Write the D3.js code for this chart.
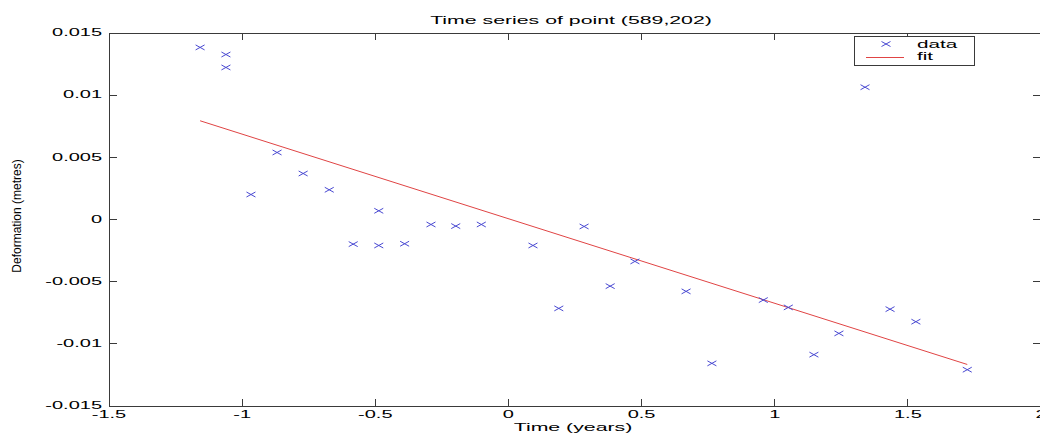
<!DOCTYPE html>
<html>
<head>
<meta charset="utf-8">
<script src="https://cdn.jsdelivr.net/npm/d3@7"></script>
<style>
  html, body { margin: 0; padding: 0; background: #fff; }
  svg { display: block; }
  text { font-family: "Liberation Sans", Arial, Helvetica, sans-serif; fill: #000; }
</style>
</head>
<body>
<svg id="chart" width="1040" height="436"></svg>
<script>
// ---- Data ----
const timeYears = [-1.156, -1.059, -1.059, -0.965, -0.867, -0.769, -0.671, -0.581, -0.485, -0.485,
                   -0.388, -0.289, -0.196, -0.100, 0.094, 0.191, 0.286, 0.384, 0.477, 0.669,
                   0.766, 0.959, 1.053, 1.149, 1.243, 1.341, 1.435, 1.532, 1.725];
const deformation = [0.0138, 0.01323, 0.01219, 0.00197, 0.00535, 0.00366, 0.00235, -0.00202, 0.00066, -0.00213,
                     -0.00199, -0.00044, -0.00057, -0.00044, -0.00213, -0.00719, -0.00060, -0.0054, -0.00341, -0.00582,
                     -0.01161, -0.00652, -0.00711, -0.01091, -0.0092, 0.0106, -0.00725, -0.00826, -0.01212];
const fitX = [-1.156, 1.725];
const fitY = [0.0079, -0.0117];
const xTicks = [-1.5, -1, -0.5, 0, 0.5, 1, 1.5, 2];
const yTicks = [-0.015, -0.01, -0.005, 0, 0.005, 0.01, 0.015];
const xDomain = [-1.5, 2];
const yDomain = [-0.015, 0.015];
const titleText = "Time series of point (589,202)";
const xLabelText = "Time (years)";
const yLabelText = "Deformation (metres)";
const legendLabels = ["data", "fit"];

// ---- Layout ----
const svg = d3.select("#chart");
const mLeft = 108.5, mRight = 1040.5, mTop = 32.5, mBottom = 405.5;
const x = d3.scaleLinear().domain(xDomain).range([mLeft, mRight]);
const y = d3.scaleLinear().domain(yDomain).range([mBottom, mTop]);

const axisColor = "#3a3a3a";
const markColor = "#4a4ad2";
const fitColor = "#e04444";
const tickStretch = 2.0;
const textStretch = 1.85;

svg.append("rect").attr("width", 1040).attr("height", 436).attr("fill", "#fff");

function styleAxis(g) {
  g.select(".domain").attr("stroke", axisColor).attr("shape-rendering", "crispEdges");
  g.selectAll(".tick line").attr("stroke", axisColor).attr("shape-rendering", "crispEdges");
  g.selectAll(".tick text")
    .attr("font-family", "Liberation Sans, Arial, sans-serif")
    .attr("font-size", 10)
    .attr("fill", "#000")
    .attr("transform", `scale(${tickStretch},1)`);
}

// bottom axis
svg.append("g").attr("transform", `translate(0,${mBottom})`)
  .call(d3.axisBottom(x).tickValues(xTicks).tickFormat(d => String(d))
    .tickSizeInner(-7).tickSizeOuter(0).tickPadding(5))
  .call(styleAxis);
// left axis
svg.append("g").attr("transform", `translate(${mLeft},0)`)
  .call(d3.axisLeft(y).tickValues(yTicks).tickFormat(d => String(d))
    .tickSizeInner(-8).tickSizeOuter(0).tickPadding(3.25))
  .call(styleAxis);
// top axis (box)
svg.append("g").attr("transform", `translate(0,${mTop})`)
  .call(d3.axisTop(x).tickValues(xTicks).tickFormat("")
    .tickSizeInner(-7).tickSizeOuter(0))
  .call(styleAxis);
// right axis (box)
svg.append("g").attr("transform", `translate(${mRight},0)`)
  .call(d3.axisRight(y).tickValues(yTicks).tickFormat("")
    .tickSizeInner(-8).tickSizeOuter(0))
  .call(styleAxis);

// ---- Fit line ----
const fitData = fitX.map((d, i) => [d, fitY[i]]);
svg.append("path")
  .datum(fitData)
  .attr("fill", "none")
  .attr("stroke", fitColor)
  .attr("stroke-width", 1)
  .attr("d", d3.line().x(d => x(d[0])).y(d => y(d[1])));

// ---- Data markers (x) ----
const hw = 4.5, hh = 2.5;
const markPath = `M${-hw},${-hh}L${hw},${hh}M${-hw},${hh}L${hw},${-hh}`;
svg.append("g").selectAll("path")
  .data(timeYears.map((t, i) => [t, deformation[i]]))
  .join("path")
  .attr("transform", d => `translate(${x(d[0])},${y(d[1])})`)
  .attr("d", markPath)
  .attr("fill", "none")
  .attr("stroke", markColor)
  .attr("stroke-width", 1);

// ---- Title and labels ----
svg.append("text")
  .attr("transform", `translate(571,24) scale(${textStretch},1)`)
  .attr("text-anchor", "middle")
  .attr("font-size", 11.5)
  .text(titleText);

svg.append("text")
  .attr("transform", `translate(573,431) scale(${textStretch},1)`)
  .attr("text-anchor", "middle")
  .attr("font-size", 11.5)
  .text(xLabelText);

svg.append("text")
  .attr("transform", `translate(21,216) rotate(-90)`)
  .attr("text-anchor", "middle")
  .attr("font-size", 12)
  .text(yLabelText);

// ---- Legend ----
const lg = svg.append("g");
lg.append("rect")
  .attr("x", 854.5).attr("y", 36.5).attr("width", 120).attr("height", 29)
  .attr("fill", "#fff").attr("stroke", axisColor).attr("stroke-width", 1)
  .attr("shape-rendering", "crispEdges");
lg.append("path")
  .attr("transform", "translate(886,44)")
  .attr("d", markPath)
  .attr("fill", "none").attr("stroke", markColor).attr("stroke-width", 1);
lg.append("line")
  .attr("x1", 866).attr("x2", 904).attr("y1", 57.5).attr("y2", 57.5)
  .attr("stroke", fitColor).attr("stroke-width", 1);
lg.selectAll("text.leg")
  .data(legendLabels)
  .join("text")
  .attr("class", "leg")
  .attr("transform", (d, i) => `translate(917,${47.5 + i * 12.5}) scale(1.8,1)`)
  .attr("font-size", 11.5)
  .text(d => d);
</script>
</body>
</html>
